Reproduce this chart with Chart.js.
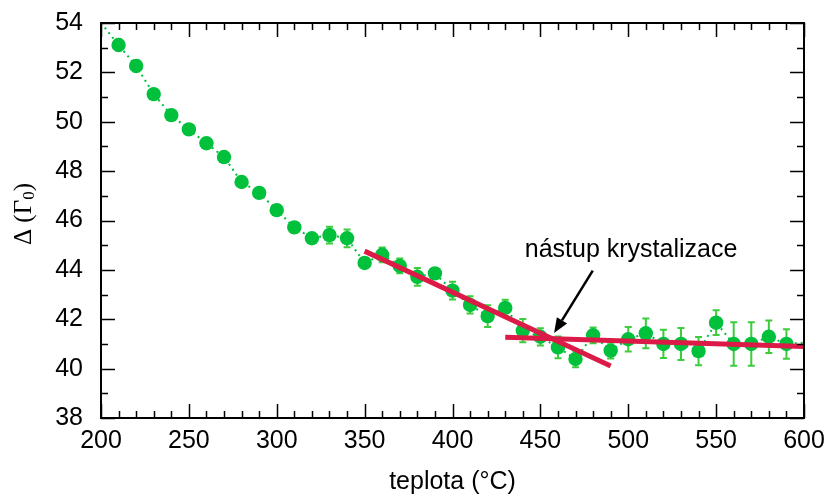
<!DOCTYPE html>
<html>
<head>
<meta charset="utf-8">
<script src="https://cdn.jsdelivr.net/npm/chart.js@4"></script>
<style>
  html, body { margin: 0; padding: 0; background: #fff; }
  canvas { display: block; }
</style>
</head>
<body>
<canvas id="graf" width="831" height="495"></canvas>
<script>
// teploty (°C) a naměřené hodnoty Δ s chybami
const teploty = [210, 220, 230, 240, 250, 260, 270, 280, 290, 300,
                 310, 320, 330, 340, 350, 360, 370, 380, 390, 400,
                 410, 420, 430, 440, 450, 460, 470, 480, 490, 500,
                 510, 520, 530, 540, 550, 560, 570, 580, 590];
const delta = [53.11, 52.26, 51.12, 50.27, 49.69, 49.13, 48.57, 47.56, 47.12, 46.42,
               45.72, 45.28, 45.41, 45.28, 44.28, 44.61, 44.16, 43.72, 43.86, 43.16,
               42.58, 42.13, 42.46, 41.54, 41.29, 40.86, 40.39, 41.35, 40.73, 41.19,
               41.43, 41.0, 41.0, 40.71, 41.86, 41.0, 41.0, 41.29, 41.0];
const chyby = [0.22, 0.22, 0.2, 0.2, 0.2, 0.2, 0.2, 0.2, 0.2, 0.2,
               0.2, 0.2, 0.34, 0.36, 0.2, 0.3, 0.3, 0.36, 0.2, 0.36,
               0.35, 0.44, 0.33, 0.47, 0.35, 0.44, 0.33, 0.32, 0.32, 0.5,
               0.6, 0.57, 0.65, 0.57, 0.5, 0.88, 0.88, 0.66, 0.6];
// tečkovaná spojnice pokračuje až k okrajům grafu
const okrajLevy = { x: 200, y: 54.0 };
const okrajPravy = { x: 600, y: 41.05 };

// lineární fity
const fitPred = [{ x: 350, y: 44.76 }, { x: 490, y: 40.11 }];
const fitPo = [{ x: 430, y: 41.27 }, { x: 600, y: 40.9 }];

// popisek se šipkou
const popisek = "nástup krystalizace";
const popisekPozice = { x: 501.6, y: 44.82 };
const sipkaOd = { x: 479.8, y: 43.97 };
const sipkaK = { x: 457.8, y: 41.44 };

const xTicks = [200, 250, 300, 350, 400, 450, 500, 550, 600];
const yTicks = [38, 40, 42, 44, 46, 48, 50, 52, 54];

const PISMO = "'Liberation Sans', Arial, Helvetica, sans-serif";
const ZELENA = "#00c03c";
const ZELENA_CHYBY = "#3ccc3c";
const CERVENA = "#dc1a48";

const body = teploty.map((t, i) => ({ x: t, y: delta[i] }));

const chybovePlugin = {
    id: "chyby",
    beforeDatasetsDraw(chart) {
        const ctx = chart.ctx;
        const sx = chart.scales.x, sy = chart.scales.y;
        ctx.save();
        ctx.strokeStyle = ZELENA_CHYBY;
        ctx.lineWidth = 2;
        teploty.forEach((t, i) => {
            const px = sx.getPixelForValue(t);
            const top = sy.getPixelForValue(delta[i] + chyby[i]);
            const bot = sy.getPixelForValue(delta[i] - chyby[i]);
            ctx.beginPath();
            ctx.moveTo(px, top); ctx.lineTo(px, bot);
            ctx.moveTo(px - 3.5, top); ctx.lineTo(px + 3.5, top);
            ctx.moveTo(px - 3.5, bot); ctx.lineTo(px + 3.5, bot);
            ctx.stroke();
        });
        ctx.restore();
    }
};

const ramPlugin = {
    id: "ram",
    afterDatasetsDraw(chart) {
        const ctx = chart.ctx;
        const a = chart.chartArea;
        const sx = chart.scales.x, sy = chart.scales.y;
        ctx.save();
        ctx.strokeStyle = "#000";
        ctx.lineWidth = 1.5;
        ctx.beginPath();
        for (let v = 200; v <= 600; v += 10) {
            const px = Math.round(sx.getPixelForValue(v)) + 0.5;
            const len = v % 50 === 0 ? 14 : 7;
            ctx.moveTo(px, a.bottom); ctx.lineTo(px, a.bottom - len);
            ctx.moveTo(px, a.top); ctx.lineTo(px, a.top + len);
        }
        for (let v = 38; v <= 54; v += 1) {
            const py = Math.round(sy.getPixelForValue(v)) + 0.5;
            const len = v % 2 === 0 ? 14 : 7;
            ctx.moveTo(a.left, py); ctx.lineTo(a.left + len, py);
            ctx.moveTo(a.right, py); ctx.lineTo(a.right - len, py);
        }
        ctx.stroke();
        ctx.lineWidth = 2;
        ctx.strokeRect(a.left, a.top, a.right - a.left, a.bottom - a.top);

        // šipka
        const x1 = sx.getPixelForValue(sipkaOd.x), y1 = sy.getPixelForValue(sipkaOd.y);
        const x2 = sx.getPixelForValue(sipkaK.x), y2 = sy.getPixelForValue(sipkaK.y);
        const ang = Math.atan2(y2 - y1, x2 - x1);
        const delka = 15, sirka = 6;
        const bx = x2 - delka * Math.cos(ang), by = y2 - delka * Math.sin(ang);
        ctx.lineWidth = 2.5;
        ctx.beginPath();
        ctx.moveTo(x1, y1); ctx.lineTo(bx, by);
        ctx.stroke();
        ctx.fillStyle = "#000";
        ctx.beginPath();
        ctx.moveTo(x2, y2);
        ctx.lineTo(bx + sirka * Math.sin(ang), by - sirka * Math.cos(ang));
        ctx.lineTo(bx - sirka * Math.sin(ang), by + sirka * Math.cos(ang));
        ctx.closePath();
        ctx.fill();

        // popisek
        ctx.font = "25px " + PISMO;
        ctx.textAlign = "center";
        ctx.textBaseline = "middle";
        ctx.fillText(popisek, sx.getPixelForValue(popisekPozice.x), sy.getPixelForValue(popisekPozice.y));

        // název osy x
        ctx.fillText("teplota (°C)", (a.left + a.right) / 2, 482);

        // název osy y s dolním indexem
        ctx.translate(24, 214);
        ctx.rotate(-Math.PI / 2);
        ctx.textAlign = "left";
        ctx.textBaseline = "middle";
        const serif = "'Liberation Serif', 'Times New Roman', serif";
        ctx.font = "25px " + serif;
        const hlavni = "\u0394 (\u0393";
        const w1 = ctx.measureText(hlavni).width;
        ctx.font = "17px " + serif;
        const w2 = ctx.measureText("0").width;
        ctx.font = "25px " + serif;
        const w3 = ctx.measureText(")").width;
        let start = -(w1 + w2 + w3) / 2;
        ctx.fillText(hlavni, start, 0);
        ctx.font = "17px " + serif;
        ctx.fillText("0", start + w1, 6);
        ctx.font = "25px " + serif;
        ctx.fillText(")", start + w1 + w2, 0);
        ctx.restore();
    }
};

new Chart(document.getElementById("graf"), {
    type: "scatter",
    data: {
        datasets: [
            {
                label: "fit pred",
                type: "line",
                data: fitPred,
                borderColor: CERVENA,
                borderWidth: 5,
                pointRadius: 0,
                order: 0
            },
            {
                label: "fit po",
                type: "line",
                data: fitPo,
                borderColor: CERVENA,
                borderWidth: 5,
                pointRadius: 0,
                order: 0
            },
            {
                label: "body",
                data: body,
                backgroundColor: ZELENA,
                borderWidth: 0,
                pointRadius: 7.2,
                pointHoverRadius: 7.2,
                order: 1
            },
            {
                label: "spojnice",
                type: "line",
                data: [okrajLevy, ...body, okrajPravy],
                borderColor: ZELENA,
                borderWidth: 2,
                borderDash: [2, 4],
                pointRadius: 0,
                order: 2
            }
        ]
    },
    options: {
        responsive: false,
        animation: false,
        events: [],
        layout: { padding: { top: 23, right: 27, left: 0, bottom: 0 } },
        plugins: {
            legend: { display: false },
            tooltip: { enabled: false }
        },
        scales: {
            x: {
                type: "linear",
                min: 200,
                max: 600,
                afterBuildTicks: s => { s.ticks = xTicks.map(v => ({ value: v })); },
                afterFit: s => { s.height = 77; s.paddingLeft = 0; s.paddingRight = 0; },
                grid: { display: false, drawTicks: false },
                border: { display: false },
                ticks: {
                    color: "#000",
                    padding: 8,
                    maxRotation: 0,
                    font: { family: PISMO, size: 25 }
                }
            },
            y: {
                min: 38,
                max: 54,
                afterBuildTicks: s => { s.ticks = yTicks.map(v => ({ value: v })); },
                afterFit: s => { s.width = 101; s.paddingTop = 0; s.paddingBottom = 0; },
                grid: { display: false, drawTicks: false },
                border: { display: false },
                ticks: {
                    color: "#000",
                    padding: 18,
                    font: { family: PISMO, size: 25 }
                }
            }
        }
    },
    plugins: [chybovePlugin, ramPlugin]
});
</script>
</body>
</html>
